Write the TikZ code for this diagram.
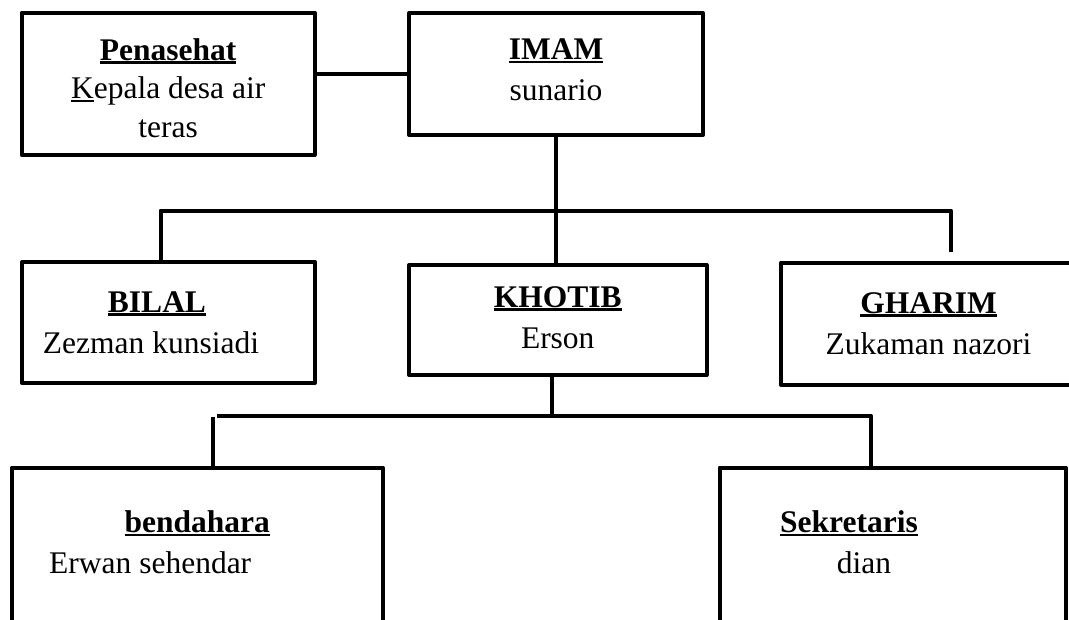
\documentclass[tikz,border=0pt]{standalone}
\usepackage{fontspec}
\setmainfont{Liberation Serif}
\newcommand{\jdl}[1]{\setbox0\hbox{\bfseries#1}\rlap{\rule[-3.4pt]{\wd0}{2.6pt}}\box0}
\newcommand{\grs}[1]{\setbox0\hbox{#1}\rlap{\rule[-3.4pt]{\wd0}{2pt}}\box0}

\begin{document}
\begin{tikzpicture}[x=1pt,y=-1pt,line width=4pt,
  kotak/.style={draw,rectangle,line join=round,anchor=north west,outer sep=0pt,
    inner sep=0pt,align=center,font=\fontsize{31.5}{41}\selectfont}]
  \useasboundingbox (0,0) rectangle (1069,619);
  \node[kotak,minimum width=293pt,minimum height=142.5pt] (penasehat) at (21.7,12.5)
    {\rule{0pt}{31pt}\jdl{Penasehat}\\[-3pt]\grs{K}epala desa air\\[-2pt]teras};
  \node[kotak,minimum width=294pt,minimum height=122pt] (imam) at (409,13)
    {\jdl{IMAM}\\sunario\rule[-8pt]{0pt}{8pt}};
  \node[kotak,minimum width=293pt,minimum height=121pt] (bilal) at (22,262)
    {\jdl{BILAL}\hspace*{23pt}\\Zezman kunsiadi\hspace*{35pt}};
  \node[kotak,minimum width=297.5pt,minimum height=110pt] (khotib) at (409,265)
    {\jdl{KHOTIB}\\Erson\rule[-5pt]{0pt}{5pt}};
  \node[kotak,minimum width=295pt,minimum height=122pt] (gharim) at (781,262.5)
    {\jdl{GHARIM}\\Zukaman nazori};
  \node[kotak,minimum width=371pt,minimum height=190pt] (bendahara) at (11.7,467.5)
    {\jdl{bendahara}\\Erwan sehendar\hspace*{94pt}\rule[-40pt]{0pt}{40pt}};
  \node[kotak,minimum width=346pt,minimum height=190pt] (sekretaris) at (719.5,467.5)
    {\jdl{Sekretaris}\hspace*{87pt}\\dian\hspace*{57pt}\rule[-40pt]{0pt}{40pt}};

  \coordinate (ka) at (160.5,210.5);
  \coordinate (kn) at (951,210.5);
  \coordinate (ku) at (951,252);
  \coordinate (tk) at (551.5,415.5);
  \coordinate (ba) at (216.7,415.5);
  \coordinate (bn) at (870.5,415.5);
  \coordinate (bk) at (213,416.7);

  \draw (imam.west) -- (imam.west -| penasehat.east);
  \draw (imam.south) -- (imam.south |- khotib.north);
  \draw[line join=round] (ka |- bilal.north) -- (ka) -- (kn) -- (ku);
  \draw (tk |- khotib.south) -- (tk);
  \draw[line join=round] (ba) -- (bn) -- (bn |- sekretaris.north);
  \draw (bk) -- (bk |- bendahara.north);
\end{tikzpicture}
\end{document}
